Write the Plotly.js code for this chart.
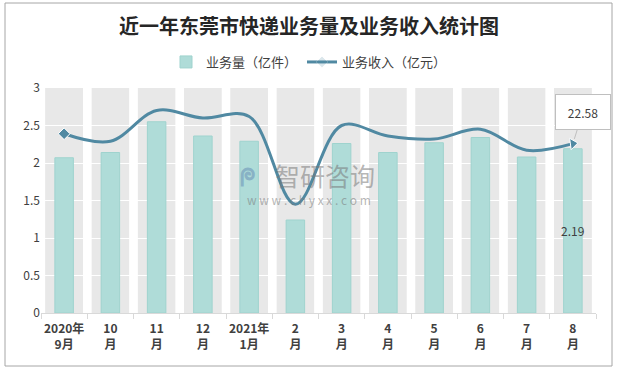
<!DOCTYPE html>
<html>
<head>
<meta charset="utf-8">
<script src="https://cdn.plot.ly/plotly-3.0.1.min.js"></script>
<style>html,body{margin:0;padding:0;background:#fff;}#chart{width:618px;height:369px;}</style>
</head>
<body>
<div id="chart"></div>
<script>
const categories = ["2020年9月","10月","11月","12月","2021年1月","2月","3月","4月","5月","6月","7月","8月"];
const tickLabels = ["2020年<br>9月","10<br>月","11<br>月","12<br>月","2021年<br>1月","2<br>月","3<br>月","4<br>月","5<br>月","6<br>月","7<br>月","8<br>月"];
const volume = [2.07, 2.14, 2.55, 2.36, 2.29, 1.24, 2.26, 2.14, 2.27, 2.34, 2.08, 2.19];
const revenue = [23.9, 22.9, 27.0, 26.0, 26.2, 14.5, 25.0, 23.6, 23.2, 24.5, 21.7, 22.58];
const stripTop = [3, 3, 3, 3, 3, 3, 3, 3, 3, 3, 3, 3];

const FONT = '"Noto Sans CJK SC", "Noto Sans", sans-serif';
const last = categories.length - 1;

const gapLeft = {
  type: 'bar', x: categories, y: stripTop, width: 0.18, offset: -0.59,
  marker: {color: '#ffffff', line: {width: 0}}, showlegend: false, hoverinfo: 'skip'
};
const gapRight = {
  type: 'bar', x: categories, y: stripTop, width: 0.18, offset: 0.41,
  marker: {color: '#ffffff', line: {width: 0}}, showlegend: false, hoverinfo: 'skip'
};
const bars = {
  type: 'bar', name: '业务量（亿件）', x: categories, y: volume, width: 0.4,
  marker: {color: '#afdcd8', line: {color: '#9fd3ce', width: 1}}
};
const line = {
  type: 'scatter', mode: 'lines+markers', name: '业务收入（亿元）',
  x: categories, y: revenue, yaxis: 'y2',
  line: {color: '#5089a2', width: 3, shape: 'spline', smoothing: 1.0},
  marker: {
    color: '#5089a2',
    symbol: revenue.map((v, i) => i === last ? 'triangle-right' : 'diamond'),
    size: revenue.map((v, i) => i === last ? 10 : 9),
    opacity: revenue.map((v, i) => (i === 0 || i === last) ? 1 : 0),
    angle: revenue.map((v, i) => i === last ? -8 : 0)
  }
};

const layout = {
  width: 618, height: 369,
  margin: {l: 41, r: 22, t: 88, b: 56},
  paper_bgcolor: '#ffffff', plot_bgcolor: '#e8e8e8',
  barmode: 'overlay',
  font: {family: FONT, color: '#404040'},
  title: {
    text: '<b>近一年东莞市快递业务量及业务收入统计图</b>',
    font: {family: FONT, size: 20, color: '#262626'},
    x: 0.5, xanchor: 'center', xref: 'container',
    y: 1 - 27/369, yanchor: 'middle', yref: 'container'
  },
  legend: {
    orientation: 'h', x: 0.5, xanchor: 'center', xref: 'container',
    y: 1 - 62/369, yanchor: 'middle', yref: 'container',
    font: {family: FONT, size: 13, color: '#404040'},
    traceorder: 'normal', itemwidth: 30
  },
  xaxis: {
    type: 'category', tickmode: 'array', tickvals: categories, ticktext: tickLabels,
    tickangle: 0, ticklabelstandoff: 5,
    range: [-0.5, 11.5], showgrid: false, showline: true, linecolor: '#d9d9d9', linewidth: 1,
    ticks: 'outside', tickson: 'boundaries', ticklen: 5, tickcolor: '#d9d9d9',
    tickfont: {family: FONT, size: 12, color: '#404040', weight: 'bold'}
  },
  yaxis: {
    range: [0, 3], dtick: 0.5, showgrid: true, gridcolor: '#ffffff', gridwidth: 1,
    zeroline: false, showline: false, ticks: '',
    tickfont: {family: FONT, size: 12, color: '#404040'}
  },
  yaxis2: {
    overlaying: 'y', side: 'right', range: [0, 30], showgrid: false,
    showticklabels: false, zeroline: false, showline: false, ticks: ''
  },
  annotations: [
    {
      xref: 'paper', yref: 'paper', x: (248-41)/555, y: (313-175)/225,
      text: '<b>ᖘ</b>', showarrow: false,
      font: {family: FONT, size: 24, color: 'rgba(110,150,185,0.6)'}
    },
    {
      xref: 'paper', yref: 'paper', x: (325-41)/555, y: (313-175)/225,
      text: '智研咨询', showarrow: false,
      font: {family: FONT, size: 25, color: 'rgba(120,120,120,0.55)'}
    },
    {
      xref: 'paper', yref: 'paper', x: (309-41)/555, y: (313-199)/225,
      text: 'w w w . c h y x x . c o m', showarrow: false,
      font: {family: FONT, size: 12, color: 'rgba(120,120,120,0.55)'}
    },
    {
      x: categories[last], y: volume[last] / 2, xref: 'x', yref: 'y',
      text: String(volume[last]), showarrow: false,
      font: {family: FONT, size: 12, color: '#404040'}
    },
    {
      x: categories[last], y: revenue[last], xref: 'x', yref: 'y2',
      text: String(revenue[last]), showarrow: true, arrowhead: 0, arrowwidth: 1,
      arrowcolor: '#bfbfbf', ax: 10, ay: -32, standoff: 5,
      bgcolor: '#ffffff', bordercolor: '#bfbfbf', borderwidth: 1, borderpad: 0,
      width: 54, height: 34, xanchor: 'center',
      font: {family: FONT, size: 12, color: '#404040'}
    }
  ],
  shapes: [
    {
      type: 'rect', xref: 'paper', yref: 'paper',
      x0: (5-41)/555, x1: (612-41)/555, y0: (313-366)/225, y1: (313-3)/225,
      line: {color: '#a6a6a6', width: 1}, fillcolor: 'rgba(0,0,0,0)', layer: 'below'
    }
  ]
};

Plotly.newPlot('chart', [gapLeft, gapRight, bars, line], layout, {displayModeBar: false, staticPlot: true});
</script>
</body>
</html>
